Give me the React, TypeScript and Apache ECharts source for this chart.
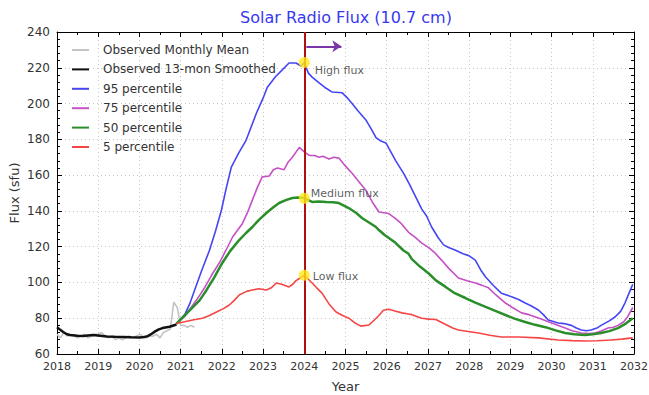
import React, { useEffect, useRef } from "react";
import * as echarts from "echarts";

const xTicks = [2018, 2019, 2020, 2021, 2022, 2023, 2024, 2025, 2026, 2027, 2028, 2029, 2030, 2031, 2032];
const yTicks = [60, 80, 100, 120, 140, 160, 180, 200, 220, 240];

const seriesNames = [
  "Observed Monthly Mean",
  "Observed 13-mon Smoothed",
  "95 percentile",
  "75 percentile",
  "50 percentile",
  "5 percentile",
];

// Observed monthly mean, one value per month from Jan 2018
const monthlyStart = 2018;
const monthlyMean = [
  71, 69, 72, 70, 71, 70, 69, 70, 71, 69, 70, 71,
  71, 72, 70, 69, 70, 68, 69, 68, 69, 70, 69, 70,
  71, 70, 69, 70, 70, 71, 69, 72, 73, 74, 89, 86,
  76, 76, 75, 76, 75,
];

const smoothed: [number, number][] = [
  [2018.0, 75], [2018.08, 73.5], [2018.15, 72.3], [2018.23, 71.2], [2018.31, 70.6], [2018.5, 70.2],
  [2018.63, 70], [2018.87, 70.6], [2019.05, 70.2], [2019.21, 69.8], [2019.4, 69.6], [2019.6, 69.5],
  [2019.8, 69.3], [2020.01, 69.2], [2020.12, 69.5], [2020.2, 70], [2020.3, 71.3], [2020.37, 72.5],
  [2020.47, 73.8], [2020.56, 74.5], [2020.73, 75.2], [2020.9, 76.5],
];

const p95: [number, number][] = [
  [2020.9, 77], [2021.1, 82], [2021.22, 88], [2021.34, 95.8], [2021.5, 106], [2021.7, 118], [2021.85, 129],
  [2021.99, 140.5], [2022.1, 152], [2022.23, 164.5], [2022.4, 172], [2022.59, 179.6], [2022.84, 194.7],
  [2023.0, 203], [2023.1, 209], [2023.3, 215], [2023.46, 218.7], [2023.63, 222.7], [2023.8, 222.7],
  [2023.92, 221], [2024.0, 222.7], [2024.1, 217], [2024.19, 214.8], [2024.36, 211.5], [2024.5, 209],
  [2024.67, 206.5], [2024.92, 206], [2025.05, 203], [2025.16, 200], [2025.3, 196], [2025.49, 191],
  [2025.62, 186], [2025.74, 181], [2025.86, 179], [2025.98, 178], [2026.1, 173], [2026.22, 168],
  [2026.41, 161], [2026.55, 155], [2026.7, 148], [2026.85, 141], [2026.97, 137], [2027.09, 131],
  [2027.25, 125], [2027.38, 121], [2027.5, 119.5], [2027.67, 118], [2027.85, 116], [2027.99, 115],
  [2028.15, 112.5], [2028.28, 107], [2028.4, 103], [2028.6, 98], [2028.78, 94], [2029.03, 92],
  [2029.2, 90.5], [2029.36, 88.5], [2029.5, 87], [2029.68, 84.6], [2029.8, 82], [2029.92, 79],
  [2030.16, 77.3], [2030.3, 77], [2030.48, 76], [2030.6, 74.5], [2030.72, 73.4], [2030.85, 73],
  [2030.96, 73.4], [2031.1, 74.5], [2031.2, 76], [2031.4, 78.5], [2031.54, 80.7], [2031.68, 84],
  [2031.78, 88.5], [2031.88, 94], [2031.97, 99],
];

const p75: [number, number][] = [
  [2020.9, 77], [2021.1, 81], [2021.38, 90], [2021.58, 97], [2021.75, 104], [2021.94, 111], [2022.1, 118],
  [2022.26, 125.4], [2022.5, 133], [2022.62, 139], [2022.74, 146], [2022.86, 153], [2022.98, 159],
  [2023.15, 159.5], [2023.25, 163], [2023.35, 164], [2023.51, 163], [2023.6, 167], [2023.71, 170],
  [2023.88, 175.5], [2024.0, 173], [2024.12, 171], [2024.25, 171], [2024.36, 170], [2024.45, 170.5],
  [2024.6, 169], [2024.72, 170], [2024.84, 169.5], [2025.0, 165], [2025.16, 161], [2025.3, 157],
  [2025.49, 151.7], [2025.65, 145], [2025.81, 139.4], [2026.05, 138.5], [2026.2, 136], [2026.35, 133],
  [2026.53, 128], [2026.7, 125], [2026.85, 122], [2027.02, 119.5], [2027.15, 117], [2027.33, 112.5],
  [2027.5, 108], [2027.74, 102.5], [2027.95, 101], [2028.15, 99.7], [2028.3, 98.5], [2028.47, 97],
  [2028.65, 93], [2028.88, 88.5], [2029.05, 86], [2029.27, 83], [2029.45, 82], [2029.61, 80.7],
  [2029.75, 79.5], [2029.92, 78], [2030.1, 76.5], [2030.33, 74.5], [2030.5, 73], [2030.72, 71.7],
  [2030.9, 71.5], [2031.06, 71.7], [2031.2, 72.8], [2031.37, 74.5], [2031.5, 75], [2031.61, 76],
  [2031.75, 78], [2031.85, 81], [2031.97, 86],
];

const p50: [number, number][] = [
  [2020.9, 77], [2021.2, 84], [2021.46, 90], [2021.63, 95.8], [2021.82, 103], [2022.01, 110.9],
  [2022.2, 117.5], [2022.42, 123.7], [2022.58, 127.5], [2022.74, 131], [2022.9, 135], [2023.08, 138.8],
  [2023.25, 142], [2023.39, 144.4], [2023.55, 146], [2023.71, 147.2], [2023.85, 147.5], [2024.0, 147.2],
  [2024.19, 145], [2024.35, 145.3], [2024.53, 145], [2024.7, 144.8], [2024.84, 144.4], [2024.96, 143],
  [2025.08, 141.6], [2025.25, 139], [2025.4, 136], [2025.57, 133.5], [2025.74, 131], [2025.81, 129.3],
  [2025.95, 126.5], [2026.12, 123.7], [2026.22, 122], [2026.4, 118], [2026.53, 116], [2026.61, 113],
  [2026.8, 109], [2027.02, 105], [2027.2, 101], [2027.43, 97.5], [2027.65, 94], [2027.91, 91.3],
  [2028.15, 88.7], [2028.4, 86.3], [2028.65, 84], [2028.88, 81.8], [2029.1, 79.8], [2029.36, 77.9],
  [2029.6, 76.3], [2029.85, 75], [2030.1, 73.2], [2030.33, 71.7], [2030.55, 71], [2030.81, 70.6],
  [2031.0, 71], [2031.2, 71.7], [2031.4, 72.8], [2031.61, 74.5], [2031.8, 77], [2031.97, 80],
];

const p5: [number, number][] = [
  [2020.9, 77], [2021.1, 78], [2021.29, 79], [2021.53, 80], [2021.7, 81.5], [2021.87, 83.5],
  [2022.05, 85.5], [2022.18, 87.4], [2022.3, 90], [2022.42, 93], [2022.6, 95], [2022.74, 95.8],
  [2022.9, 96.5], [2023.08, 95.8], [2023.2, 97], [2023.32, 99.7], [2023.45, 99], [2023.63, 97.5],
  [2023.72, 99], [2023.8, 101], [2023.9, 102.5], [2024.0, 104], [2024.19, 99.7], [2024.3, 97],
  [2024.43, 94], [2024.6, 88], [2024.77, 83.5], [2024.93, 81.5], [2025.08, 80], [2025.22, 77.5],
  [2025.37, 75.6], [2025.57, 76.2], [2025.7, 79], [2025.81, 81.5], [2025.92, 84.5], [2026.05, 85],
  [2026.2, 84], [2026.37, 83], [2026.53, 82.4], [2026.61, 82], [2026.85, 80], [2027.02, 79.5],
  [2027.19, 79.3], [2027.43, 76.5], [2027.6, 74.5], [2027.74, 73.4], [2028.06, 72.3], [2028.23, 71.7],
  [2028.5, 70.5], [2028.78, 69.5], [2029.2, 69.5], [2029.68, 69], [2030.16, 67.8], [2030.5, 67.5],
  [2030.81, 67.3], [2031.1, 67.4], [2031.44, 67.8], [2031.7, 68.3], [2031.97, 69],
];

const markerYear = 2024;
const fluxLabels = ["High flux", "Medium flux", "Low flux"];
const fluxValues = [223, 147, 104];
const arrowFrom: [number, number] = [2024.05, 232];
const arrowTo: [number, number] = [2024.9, 232];

const FONT = "DejaVu Sans";

export default function App() {
  const ref = useRef<HTMLDivElement>(null);
  useEffect(() => {
    if (!ref.current) return;
    const chart = echarts.init(ref.current, undefined, { renderer: "svg" });
    const monthly = monthlyMean.map((v, i) => [monthlyStart + i / 12, v]);
    const labelOffsets = [[3, 8], [-1, -5], [1, 1]];
    const lineSeries = (name: string, data: any, color: string, width: number, z = 2) => ({
      name,
      type: "line",
      data,
      symbol: "none",
      showSymbol: false,
      lineStyle: { color, width },
      itemStyle: { color },
      z,
    });
    chart.setOption({
      animation: false,
      backgroundColor: "#fff",
      title: {
        text: "Solar Radio Flux (10.7 cm)",
        left: 341,
        top: 4,
        textAlign: "center",
        textStyle: { color: "#3838f0", fontSize: 16, fontWeight: "normal", fontFamily: FONT },
      },
      legend: {
        data: seriesNames.map((n) => ({ name: n, icon: "rect" })),
        orient: "vertical",
        left: 67,
        top: 39,
        itemWidth: 17,
        itemHeight: 2,
        itemGap: 7.4,
        textStyle: { color: "#333", fontSize: 12, fontFamily: FONT, padding: [0, 0, 0, 9] },
      },
      grid: { left: 57, right: 15, top: 32, bottom: 41, outerBoundsMode: "none", containLabel: false },
      xAxis: [
        {
          type: "value",
          min: xTicks[0],
          max: xTicks[xTicks.length - 1],
          interval: 1,
          name: "Year",
          nameLocation: "middle",
          nameGap: 26,
          nameMoveOverlap: false,
          nameTextStyle: { color: "#333", fontSize: 13, fontFamily: FONT },
          axisLine: { lineStyle: { color: "#000", width: 1 } },
          axisTick: { inside: true, length: 5, lineStyle: { color: "#000" } },
          minorTick: { show: true, splitNumber: 2, length: 3, lineStyle: { color: "#000" } },
          axisLabel: { color: "#333", fontSize: 11, fontFamily: FONT, margin: 7, formatter: (v: number) => String(v) },
          splitLine: { show: true, lineStyle: { color: "#c8c8c8", type: [1, 3] } },
        },
        {
          type: "value",
          position: "top",
          min: xTicks[0],
          max: xTicks[xTicks.length - 1],
          interval: 1,
          axisLine: { lineStyle: { color: "#000", width: 1 } },
          axisTick: { inside: true, length: 5, lineStyle: { color: "#000" } },
          minorTick: { show: true, splitNumber: 2, length: 3, lineStyle: { color: "#000" } },
          axisLabel: { show: false },
          splitLine: { show: false },
        },
      ],
      yAxis: [
        {
          type: "value",
          min: yTicks[0],
          max: yTicks[yTicks.length - 1],
          interval: 20,
          name: "Flux (sfu)",
          nameLocation: "middle",
          nameGap: 36,
          nameMoveOverlap: false,
          nameTextStyle: { color: "#333", fontSize: 13, fontFamily: FONT },
          axisLine: { show: true, lineStyle: { color: "#000", width: 1 } },
          axisTick: { show: true, inside: true, length: 5, lineStyle: { color: "#000" } },
          minorTick: { show: true, splitNumber: 5, length: 3, lineStyle: { color: "#000" } },
          axisLabel: { color: "#333", fontSize: 12, fontFamily: FONT, margin: 7 },
          splitLine: { show: true, lineStyle: { color: "#c8c8c8", type: [1, 3] } },
        },
        {
          type: "value",
          position: "right",
          min: yTicks[0],
          max: yTicks[yTicks.length - 1],
          interval: 20,
          axisLine: { show: true, lineStyle: { color: "#000", width: 1 } },
          axisTick: { show: true, inside: true, length: 5, lineStyle: { color: "#000" } },
          minorTick: { show: true, splitNumber: 5, length: 3, lineStyle: { color: "#000" } },
          axisLabel: { show: false },
          splitLine: { show: false },
        },
      ],
      series: [
        lineSeries(seriesNames[0], monthly, "#c4c4c4", 1.6),
        lineSeries(seriesNames[1], smoothed, "#111111", 2.5, 3),
        lineSeries(seriesNames[2], p95, "#4545f5", 1.6),
        lineSeries(seriesNames[3], p75, "#c650c6", 1.6),
        lineSeries(seriesNames[4], p50, "#2a8f2a", 2.5),
        lineSeries(seriesNames[5], p5, "#f54545", 1.6),
        {
          name: "markers",
          type: "line",
          data: [],
          z: 6,
          markLine: {
            silent: true,
            symbol: ["none", "none"],
            label: { show: false },
            data: [
              { xAxis: markerYear, lineStyle: { color: "#b01010", width: 2, type: "solid" } },
              [
                { coord: arrowFrom, symbol: "none", lineStyle: { color: "#7a36a8", width: 2, type: "solid" } },
                { coord: arrowTo, symbol: "arrow", symbolSize: 9 },
              ],
            ],
          },
        },
        {
          name: "flux",
          type: "scatter",
          z: 10,
          symbolSize: 11,
          itemStyle: { color: "#ffe81a" },
          data: fluxValues.map((v, i) => ({
            value: [markerYear, v],
            name: fluxLabels[i],
            label: {
              show: true,
              position: "right",
              distance: 2,
              offset: labelOffsets[i],
              formatter: "{b}",
              color: "#333",
              fontSize: 11,
              fontFamily: FONT,
            },
          })),
        },
      ],
    });
    return () => chart.dispose();
  }, []);
  return (
    <div
      ref={ref}
      style={{ position: "absolute", left: 0, top: 0, width: 649, height: 395, background: "#fff" }}
    />
  );
}
